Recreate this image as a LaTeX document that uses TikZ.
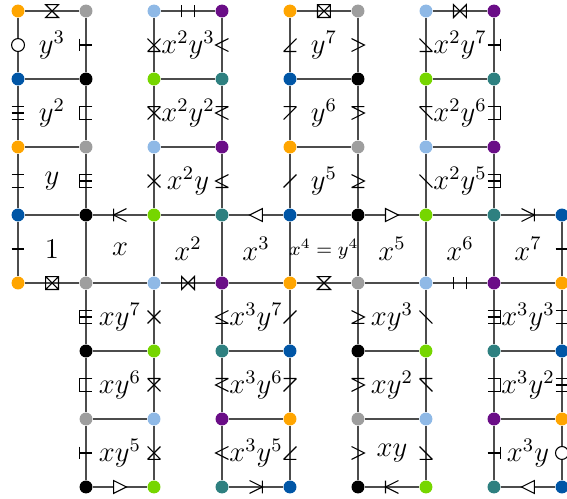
\documentclass[tikz,border=0pt]{standalone}
\usepackage{tikz}
\usetikzlibrary{calc}
\definecolor{dot0}{RGB}{255,165,0}   % orange
\definecolor{dot1}{RGB}{158,158,158} % grey
\definecolor{dot2}{RGB}{143,185,230} % light blue
\definecolor{dot3}{RGB}{106,13,135}  % purple
\definecolor{dot4}{RGB}{0,86,166}    % dark blue
\definecolor{dot5}{RGB}{0,0,0}       % black
\definecolor{dot6}{RGB}{118,214,0}   % green
\definecolor{dot7}{RGB}{46,128,128}  % teal

% edge signs, drawn in units of half their size
\tikzset{
  hourg/.pic={\draw (-1,1) -- (1,1) -- (-1,-1) -- (1,-1) -- cycle;},
  bowt/.pic={\draw (-1,1) -- (-1,-1) -- (1,1) -- (1,-1) -- cycle;},
  boxx/.pic={\draw (-1,-1) rectangle (1,1) (-1,-1) -- (1,1) (-1,1) -- (1,-1);},
  tickh/.pic={\draw (-1,-1) -- (-1,1) (1,-1) -- (1,1);},
  tka/.pic={\draw (-1,0) -- (1,0);},
  tkb/.pic={\draw (-1,1) -- (1,1) (-1,-1) -- (1,-1);},
  tkc/.pic={\draw (-1,1) -- (1,1) (-1,0) -- (1,0) (-1,-1) -- (1,-1);},
  circ/.pic={\draw[fill=white] (0,0) circle (1);},
  bla/.pic={\draw (-1,1) -- (-1,-1) (-1,0) -- (1,0);},
  blb/.pic={\draw (1,1) -- (-1,1) -- (-1,-1) -- (1,-1);},
  blc/.pic={\draw (1,1) -- (-1,1) -- (-1,-1) -- (1,-1) (-1,0) -- (1,0);},
  bra/.pic={\draw (1,1) -- (1,-1) (-1,0) -- (1,0);},
  brb/.pic={\draw (-1,1) -- (1,1) -- (1,-1) -- (-1,-1);},
  brc/.pic={\draw (-1,1) -- (1,1) -- (1,-1) -- (-1,-1) (-1,0) -- (1,0);},
  crs/.pic={\draw (-1,-1) -- (1,1) (-1,1) -- (1,-1);},
  crst/.pic={\draw (-1,-1) -- (1,1) (-1,1) -- (1,-1) (-1,1) -- (1,1);},
  crsb/.pic={\draw (-1,-1) -- (1,1) (-1,1) -- (1,-1) (-1,-1) -- (1,-1);},
  lss/.pic={\draw (1,1) -- (-1,0) -- (1,-1);},
  lsst/.pic={\draw (1,1) -- (-1,0) -- (1,-1) (-1,1) -- (1,1);},
  lssb/.pic={\draw (1,1) -- (-1,0) -- (1,-1) (-1,-1) -- (1,-1);},
  gtr/.pic={\draw (-1,1) -- (1,0) -- (-1,-1);},
  gtrt/.pic={\draw (-1,1) -- (1,0) -- (-1,-1) (-1,1) -- (1,1);},
  gtrb/.pic={\draw (-1,1) -- (1,0) -- (-1,-1) (-1,-1) -- (1,-1);},
  sls/.pic={\draw (-1,-1) -- (1,1);},
  slst/.pic={\draw (-1,-1) -- (1,1) (-1,1) -- (1,1);},
  slsb/.pic={\draw (-1,-1) -- (1,1) (-1,-1) -- (1,-1);},
  bsl/.pic={\draw (-1,1) -- (1,-1);},
  bslt/.pic={\draw (-1,1) -- (1,-1) (-1,1) -- (1,1);},
  bslb/.pic={\draw (-1,1) -- (1,-1) (-1,-1) -- (1,-1);},
  tril/.pic={\draw[fill=white] (1,1) -- (-1,0) -- (1,-1) -- cycle;},
  trir/.pic={\draw[fill=white] (-1,1) -- (1,0) -- (-1,-1) -- cycle;},
  barl/.pic={\draw (-1,1) -- (-1,-1) (1,1) -- (-1,0) -- (1,-1);},
  barr/.pic={\draw (1,1) -- (1,-1) (-1,1) -- (1,0) -- (-1,-1);}
}

\begin{document}
\begin{tikzpicture}[
    dot/.style={circle, inner sep=0pt, minimum size=1.9mm},
    edge/.style={black!70, line width=0.55pt},
    edgesign/.style={scale=0.095, black, line width=0.45pt},
    lab/.style={font=\large, inner sep=1pt}]
\useasboundingbox (-0.265,0.162) rectangle (8.074,-7.176);
\clip (-0.265,0.162) rectangle (8.074,-7.176);

% vertices, coloured by column mod 4 and row mod 2
\foreach \r/\xa/\xb in {0/0/7,1/0/7,2/0/7,3/0/8,4/0/8,5/1/8,6/1/8,7/1/8}
  \foreach \x in {\xa,...,\xb} {
    \pgfmathtruncatemacro\k{mod(\x,4)+4*mod(\r,2)}
    \node[dot, fill=dot\k] (d\x\r) at (\x,-\r) {};
  }

% horizontal edges
\foreach \r in {0,1,2}
  \foreach \x in {0,2,4,6} {
    \pgfmathtruncatemacro\xn{\x+1}
    \draw[edge] (d\x\r) -- (d\xn\r);
  }
\foreach \r in {3,4}
  \foreach \x in {0,...,7} {
    \pgfmathtruncatemacro\xn{\x+1}
    \draw[edge] (d\x\r) -- (d\xn\r);
  }
\foreach \r in {5,6,7}
  \foreach \x in {1,3,5,7} {
    \pgfmathtruncatemacro\xn{\x+1}
    \draw[edge] (d\x\r) -- (d\xn\r);
  }

% vertical edges
\foreach \x/\ra/\rb in {0/0/3,1/0/6,2/0/6,3/0/6,4/0/6,5/0/6,6/0/6,7/0/6,8/3/6}
  \foreach \r in {\ra,...,\rb} {
    \pgfmathtruncatemacro\rn{\r+1}
    \draw[edge] (d\x\r) -- (d\x\rn);
  }

% signs on the glued edges
\foreach \a/\b/\g in {
    d00/d01/circ, d01/d02/tkc, d02/d03/tkb, d03/d04/tka,
    d10/d11/bla, d11/d12/blb, d12/d13/blc, d14/d15/blc, d15/d16/blb, d16/d17/bla,
    d20/d21/crsb, d21/d22/crst, d22/d23/crs, d24/d25/crs, d25/d26/crst, d26/d27/crsb,
    d30/d31/lss, d31/d32/lsst, d32/d33/lssb, d34/d35/lssb, d35/d36/lsst, d36/d37/lss,
    d40/d41/slsb, d41/d42/slst, d42/d43/sls, d44/d45/sls, d45/d46/slst, d46/d47/slsb,
    d50/d51/gtr, d51/d52/gtrt, d52/d53/gtrb, d54/d55/gtrb, d55/d56/gtrt, d56/d57/gtr,
    d60/d61/bslb, d61/d62/bslt, d62/d63/bsl, d64/d65/bsl, d65/d66/bslt, d66/d67/bslb,
    d70/d71/bra, d71/d72/brb, d72/d73/brc, d74/d75/brc, d75/d76/brb, d76/d77/bra,
    d83/d84/tka, d84/d85/tkb, d85/d86/tkc, d86/d87/circ,
    d00/d10/hourg, d20/d30/tickh, d40/d50/boxx, d60/d70/bowt,
    d13/d23/barl, d33/d43/tril, d53/d63/trir, d73/d83/barr,
    d04/d14/boxx, d24/d34/bowt, d44/d54/hourg, d64/d74/tickh,
    d17/d27/trir, d37/d47/barr, d57/d67/barl, d77/d87/tril}
  \pic[edgesign] at ($(\a)!0.5!(\b)$) {\g};

% cell labels
\foreach \x/\r/\lab in {
    0/0/y^3, 0/1/y^2, 0/2/y, 2/0/x^2y^3, 2/1/x^2y^2, 2/2/x^2y,
    4/0/y^7, 4/1/y^6, 4/2/y^5, 6/0/x^2y^7, 6/1/x^2y^6, 6/2/x^2y^5,
    0/3/1, 1/3/x, 2/3/x^2, 3/3/x^3, 5/3/x^5, 6/3/x^6, 7/3/x^7,
    1/4/xy^7, 1/5/xy^6, 1/6/xy^5, 3/4/x^3y^7, 3/5/x^3y^6, 3/6/x^3y^5,
    5/4/xy^3, 5/5/xy^2, 5/6/xy, 7/4/x^3y^3, 7/5/x^3y^2, 7/6/x^3y}
  \node[lab] (l\x\r) at (\x+0.5,-\r-0.5) {$\lab$};
\node[lab, font=\footnotesize] (l43) at (4.5,-3.5) {$x^4=y^4$};
\end{tikzpicture}
\end{document}
